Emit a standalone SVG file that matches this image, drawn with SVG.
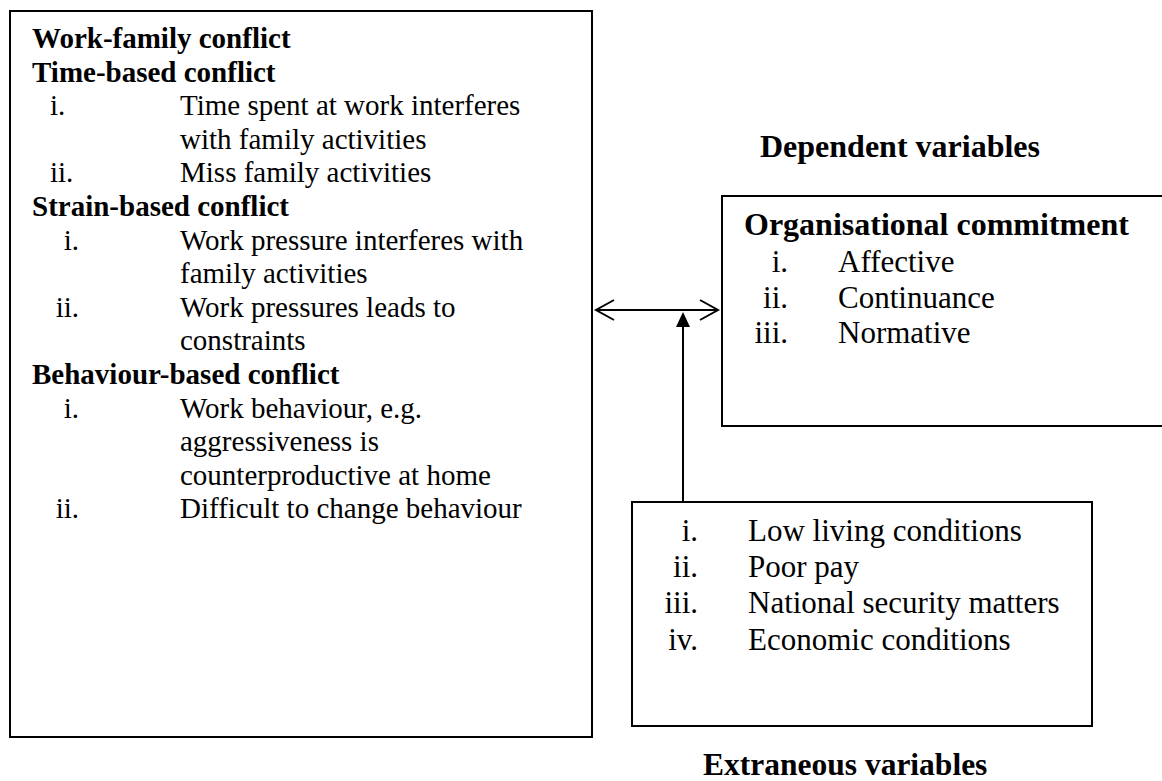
<svg xmlns="http://www.w3.org/2000/svg" width="1162" height="781" viewBox="0 0 1162 781">
<style>
.box{fill:#fff;stroke:#000;stroke-width:2}
.t{font-family:"Liberation Serif","Times New Roman",serif;fill:#000}
.l{font-size:29px}
.r{font-size:31px}
.h{font-size:32px;font-weight:bold}
.b{font-weight:bold}
.ln{fill:none;stroke:#000;stroke-width:2}
</style>
<rect width="1162" height="781" fill="#fff"/>
<g id="work-family-conflict">
<rect class="box" x="10" y="11" width="582" height="726"/>
<text class="t l b" x="32" y="48">Work-family conflict</text>
<text class="t l b" x="32" y="82">Time-based conflict</text>
<text class="t l" x="50" y="115">i.</text><text class="t l" x="180" y="115">Time spent at work interferes</text>
<text class="t l" x="180" y="149">with family activities</text>
<text class="t l" x="50" y="182">ii.</text><text class="t l" x="180" y="182">Miss family activities</text>
<text class="t l b" x="32" y="216">Strain-based conflict</text>
<text class="t l" x="79" y="250" text-anchor="end">i.</text><text class="t l" x="180" y="250">Work pressure interferes with</text>
<text class="t l" x="180" y="283">family activities</text>
<text class="t l" x="79" y="317" text-anchor="end">ii.</text><text class="t l" x="180" y="317">Work pressures leads to</text>
<text class="t l" x="180" y="350">constraints</text>
<text class="t l b" x="32" y="384">Behaviour-based conflict</text>
<text class="t l" x="79" y="418" text-anchor="end">i.</text><text class="t l" x="180" y="418">Work behaviour, e.g.</text>
<text class="t l" x="180" y="451">aggressiveness is</text>
<text class="t l" x="180" y="485">counterproductive at home</text>
<text class="t l" x="79" y="518" text-anchor="end">ii.</text><text class="t l" x="180" y="518">Difficult to change behaviour</text>
</g>
<g id="dependent-label">
<text class="t h" x="760" y="157">Dependent variables</text>
</g>
<g id="organisational-commitment">
<rect class="box" x="722" y="196" width="445" height="230"/>
<text class="t h" x="744" y="235">Organisational commitment</text>
<text class="t r" x="788" y="272" text-anchor="end">i.</text><text class="t r" x="838" y="272">Affective</text>
<text class="t r" x="788" y="308" text-anchor="end">ii.</text><text class="t r" x="838" y="308">Continuance</text>
<text class="t r" x="788" y="343" text-anchor="end">iii.</text><text class="t r" x="838" y="343">Normative</text>
</g>
<g id="extraneous-variables">
<rect class="box" x="632" y="502" width="460" height="224"/>
<text class="t r" x="698" y="541" text-anchor="end">i.</text><text class="t r" x="748" y="541">Low living conditions</text>
<text class="t r" x="698" y="577" text-anchor="end">ii.</text><text class="t r" x="748" y="577">Poor pay</text>
<text class="t r" x="698" y="613" text-anchor="end">iii.</text><text class="t r" x="748" y="613">National security matters</text>
<text class="t r" x="698" y="650" text-anchor="end">iv.</text><text class="t r" x="748" y="650">Economic conditions</text>
</g>
<g id="extraneous-label">
<text class="t h" x="703" y="775" style="font-size:31.5px">Extraneous variables</text>
</g>
<g id="connectors">
<line class="ln" x1="596" y1="310" x2="718" y2="310"/>
<polyline class="ln" points="614,300 596,310 614,320"/>
<polyline class="ln" points="700,300 718,310 700,320"/>
<line class="ln" x1="683" y1="502" x2="683" y2="325"/>
<polygon points="683,312 676,327 690,327" fill="#000"/>
</g>
</svg>
